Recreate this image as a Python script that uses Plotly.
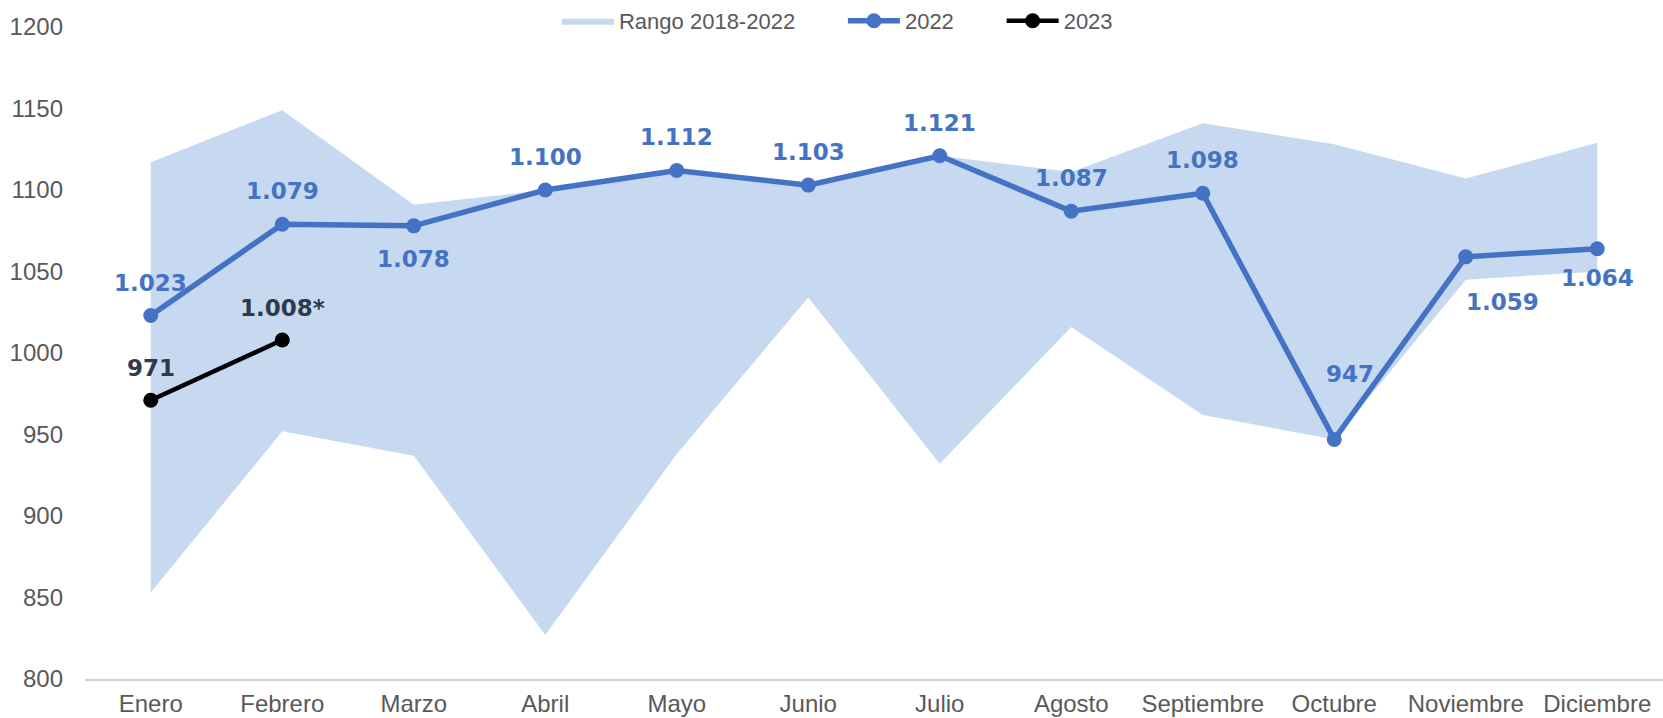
import plotly.graph_objects as go

meses = ["Enero", "Febrero", "Marzo", "Abril", "Mayo", "Junio", "Julio",
         "Agosto", "Septiembre", "Octubre", "Noviembre", "Diciembre"]
rango_min = [853, 952, 937, 827, 938, 1034, 932, 1016, 962, 947, 1045, 1050]
rango_max = [1117, 1149, 1091, 1100, 1112, 1103, 1121, 1111, 1141, 1128, 1107, 1129]
v2022 = [1023, 1079, 1078, 1100, 1112, 1103, 1121, 1087, 1098, 947, 1059, 1064]
v2023 = [971, 1008]
nota2023 = ["", "*"]
y_ticks = [800, 850, 900, 950, 1000, 1050, 1100, 1150, 1200]

BLUE = "#4472C4"
BAND = "#C6D9F0"
DARK = "#2E3A4B"
GRAY = "#595959"
PAD = "\u00a0" * 7
TICKFONT = "Liberation Sans"


def fmt(v):
    return f"{v:,}".replace(",", ".")


fig = go.Figure()
fig.add_trace(go.Scatter(x=meses, y=rango_min, mode="lines", line=dict(width=0, color=BAND),
                         showlegend=False, hoverinfo="skip"))
fig.add_trace(go.Scatter(x=meses, y=rango_max, mode="lines", line=dict(width=0, color=BAND),
                         fill="tonexty", fillcolor=BAND, name="Rango 2018-2022" + PAD))
fig.add_trace(go.Scatter(x=meses, y=v2022, mode="lines+markers", name="2022" + PAD,
                         line=dict(color=BLUE, width=5.5), marker=dict(color=BLUE, size=15)))
fig.add_trace(go.Scatter(x=meses[:len(v2023)], y=v2023, mode="lines+markers", name="2023",
                         line=dict(color="black", width=4.5), marker=dict(color="black", size=15)))

# label placement for 2022 (dx, dy in px; negative dy = above)
pos2022 = [(0, -33), (0, -33), (0, 33), (0, -33), (0, -33), (0, -33), (0, -33),
           (0, -33), (0, -33), (16, -65), (37, 45), (0, 29)]
for m, v, (dx, dy) in zip(meses, v2022, pos2022):
    fig.add_annotation(x=m, y=v, text=fmt(v), showarrow=False, xshift=dx, yshift=-dy,
                       font=dict(family="DejaVu Sans", size=23, color=BLUE, weight="bold"))
for m, v, n in zip(meses, v2023, nota2023):
    fig.add_annotation(x=m, y=v, text=fmt(v) + n, showarrow=False, yshift=32,
                       font=dict(family="DejaVu Sans", size=23, color=DARK, weight="bold"))

fig.update_layout(
    width=1663, height=718,
    margin=dict(l=85, r=0, t=27, b=39),
    plot_bgcolor="white", paper_bgcolor="white",
    font=dict(family="Liberation Sans", size=22, color=GRAY),
    showlegend=True,
    legend=dict(orientation="h", x=0.2991, xanchor="left", y=1.0092, yanchor="middle",
                font=dict(size=22, color=GRAY), bgcolor="rgba(0,0,0,0)",
                itemwidth=52, traceorder="normal"),
    xaxis=dict(range=[-0.5, 11.5], showgrid=False, showline=True, linecolor="#D0D0D0",
               linewidth=1.5, ticks="", tickfont=dict(family=TICKFONT, size=24, color=GRAY),
               ticklabelstandoff=2, automargin=False),
    yaxis=dict(range=[800, 1200], tickvals=y_ticks, showgrid=False, zeroline=False,
               showline=False, ticks="", tickfont=dict(family=TICKFONT, size=24, color=GRAY),
               ticklabelstandoff=21, automargin=False),
)
fig.write_html("out.html", config={"displayModeBar": False},
               post_script="document.body.style.margin='0';document.body.style.padding='0';")
